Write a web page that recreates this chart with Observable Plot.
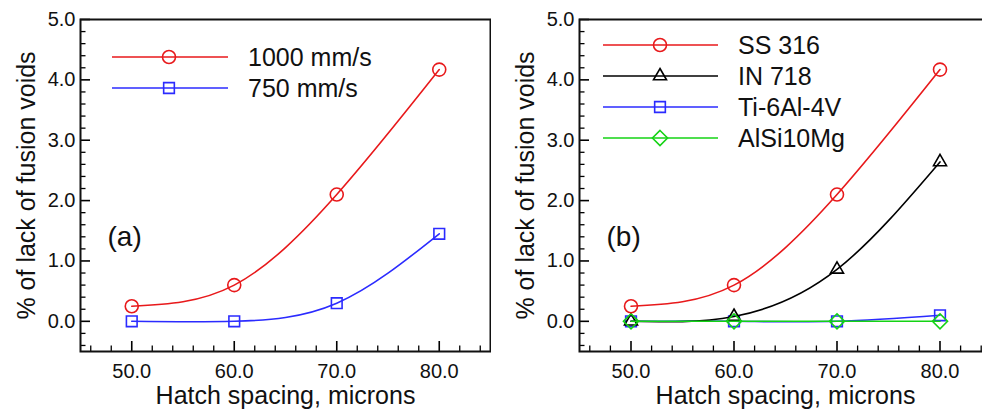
<!DOCTYPE html>
<html>
<head>
<meta charset="utf-8">
<script src="https://cdn.jsdelivr.net/npm/d3@7"></script>
<script src="https://cdn.jsdelivr.net/npm/@observablehq/plot@0.6"></script>
<style>
  body { margin: 0; background: #fff; font-family: "Liberation Sans", Arial, sans-serif; }
  #wrap { display: flex; width: 982px; height: 409px; overflow: hidden; }
  .panel { position: relative; flex: none; height: 409px; overflow: hidden; }
  .panel svg { max-width: none !important; }
  .panel svg.legend { position: absolute; left: 0; top: 0; pointer-events: none; }
</style>
</head>
<body>
<div id="wrap"></div>
<script>
// Hatch spacing (microns)
const hatch = [50, 60, 70, 80];

// Panel (a): scan speed comparison, % lack of fusion voids
const speed1000 = [0.25, 0.6, 2.1, 4.17];
const speed750 = [0.0, 0.0, 0.3, 1.45];

// Panel (b): alloy comparison, % lack of fusion voids
const ss316 = [0.25, 0.6, 2.1, 4.17];
const in718 = [0.0, 0.08, 0.86, 2.64];
const ti64 = [0.0, 0.0, 0.0, 0.1];
const alsi10mg = [0.0, 0.0, 0.0, 0.0];

// Axis ticks
const xMajor = [50, 60, 70, 80];
const yMajor = [0, 1, 2, 3, 4, 5];
const xMinor = d3.range(46, 85, 2).filter(v => v % 10 !== 0);
const yMinor = d3.range(-4, 50, 2).map(v => v / 10).filter(v => Math.abs(v - Math.round(v)) > 1e-9);

const xLabel = "Hatch spacing, microns";
const yLabel = "% of lack of fusion voids";

const RED = "#e8191b", BLUE = "#2b2bff", BLACK = "#000000", GREEN = "#14d314";

const seriesA = [
  {name: "1000 mm/s", values: speed1000, color: RED, symbol: "circle", r: 6.5},
  {name: "750 mm/s", values: speed750, color: BLUE, symbol: "square2", r: 6.8}
];
const seriesB = [
  {name: "SS 316", values: ss316, color: RED, symbol: "circle", r: 6.5},
  {name: "IN 718", values: in718, color: BLACK, symbol: "triangle2", r: 6.2},
  {name: "Ti-6Al-4V", values: ti64, color: BLUE, symbol: "square2", r: 6.8},
  {name: "AlSi10Mg", values: alsi10mg, color: GREEN, symbol: "diamond2", r: 6.8}
];
// drawing order for panel (b): bottom to top
const drawOrderB = [2, 1, 3, 0];

const toRows = s => hatch.map((h, i) => ({x: h, y: s.values[i]}));

function panel({series, order, tag, width, marginLeft, marginRight, legend}) {
  const H = 409, MT = 19, MB = 58;
  const marks = [];
  // minor & major ticks pointing inward
  marks.push(Plot.axisX(xMinor, {tickSize: -5.5, text: null, label: null, strokeWidth: 1.3}));
  marks.push(Plot.axisY(yMinor, {tickSize: -5.5, text: null, label: null, strokeWidth: 1.3}));
  marks.push(Plot.axisX(xMajor, {tickSize: -10, tickPadding: 22, tickFormat: d3.format(".1f"),
    label: null, fontSize: 20, strokeWidth: 1.6, fill: "#111"}));
  marks.push(Plot.axisY(yMajor, {tickSize: -10, tickPadding: 15, tickFormat: d3.format(".1f"),
    label: null, fontSize: 20, strokeWidth: 1.6, fill: "#111"}));
  for (const idx of order) {
    const s = series[idx];
    const rows = toRows(s);
    marks.push(Plot.line(rows, {x: "x", y: "y", stroke: s.color, strokeWidth: 1.6, curve: "natural"}));
    marks.push(Plot.dot(rows, {x: "x", y: "y", stroke: s.color, strokeWidth: 1.6, fill: "none",
      symbol: s.symbol, r: s.r}));
  }
  marks.push(Plot.frame({stroke: "#111", strokeWidth: 2}));
  marks.push(Plot.text([xLabel], {text: d => d, frameAnchor: "bottom", dy: 44, fontSize: 25,
    textAnchor: "middle", lineAnchor: "middle", fill: "#111"}));
  marks.push(Plot.text([yLabel], {text: d => d, frameAnchor: "left", dx: -54, rotate: -90, fontSize: 25,
    textAnchor: "middle", lineAnchor: "middle", fill: "#111"}));
  marks.push(Plot.text([tag], {text: d => d, frameAnchor: "top-left", dx: 27, dy: 218, fontSize: 28,
    textAnchor: "start", lineAnchor: "middle", fill: "#111"}));

  const chart = Plot.plot({
    width, height: H,
    marginLeft, marginRight, marginTop: MT, marginBottom: MB,
    style: {fontFamily: "'Liberation Sans', Arial, sans-serif", background: "transparent",
      overflow: "visible", maxWidth: "none"},
    x: {domain: [45, 85]},
    y: {domain: [-0.5, 5.0]},
    marks
  });

  // legend drawn over the plot frame
  const leg = d3.create("svg").attr("class", "legend").attr("width", width).attr("height", H);
  const sym = {circle: d3.symbolCircle, square2: d3.symbolSquare2, triangle2: d3.symbolTriangle2, diamond2: d3.symbolDiamond2};
  series.forEach((s, i) => {
    const y = MT + legend.top + i * 31;
    const g = leg.append("g");
    g.append("line").attr("x1", marginLeft + legend.x0).attr("x2", marginLeft + legend.x1)
      .attr("y1", y).attr("y2", y).attr("stroke", s.color).attr("stroke-width", 1.6);
    g.append("path").attr("d", d3.symbol(sym[s.symbol], Math.PI * s.r * s.r)())
      .attr("transform", `translate(${marginLeft + legend.xm},${y})`)
      .attr("fill", "none").attr("stroke", s.color).attr("stroke-width", 1.6);
    g.append("text").attr("x", marginLeft + legend.xt).attr("y", y + 9)
      .attr("font-size", 25).attr("fill", "#111")
      .attr("font-family", "'Liberation Sans', Arial, sans-serif").text(s.name);
  });
  return {chart, legend: leg.node()};
}

const wrap = document.getElementById("wrap");

const divA = document.createElement("div");
divA.className = "panel"; divA.style.width = "491px";
const pa = panel({series: seriesA, order: [1, 0], tag: "(a)", width: 491, marginLeft: 80, marginRight: 1,
  legend: {top: 38, x0: 32, x1: 148, xm: 89, xt: 168}});
divA.append(pa.chart, pa.legend);

const divB = document.createElement("div");
divB.className = "panel"; divB.style.width = "491px";
const pb = panel({series: seriesB, order: drawOrderB, tag: "(b)", width: 500, marginLeft: 88, marginRight: 0,
  legend: {top: 26, x0: 24, x1: 139, xm: 81, xt: 159}});
divB.append(pb.chart, pb.legend);

wrap.append(divA, divB);
</script>
</body>
</html>
